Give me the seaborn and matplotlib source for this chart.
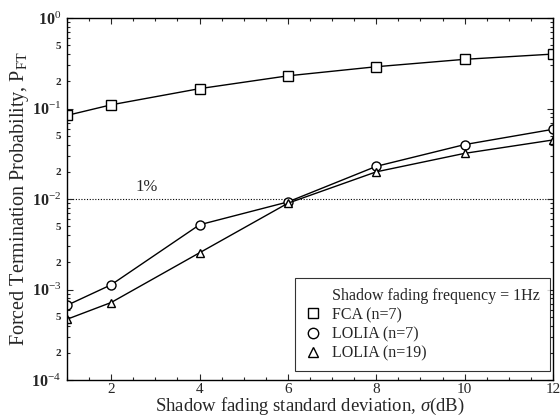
import matplotlib
matplotlib.use("Agg")
import matplotlib.pyplot as plt
import matplotlib.ticker as mticker
from matplotlib.lines import Line2D
import numpy as np
import pandas as pd
import seaborn as sns

# Shadow fading standard deviation (dB)
sigma = [1, 2, 4, 6, 8, 10, 12]

# Forced termination probability for each scheme
p_fca7 = [0.084, 0.11, 0.166, 0.23, 0.29, 0.35, 0.40]
p_lolia7 = [6.7e-4, 1.13e-3, 5.2e-3, 9.3e-3, 0.023, 0.040, 0.059]
p_lolia19 = [4.7e-4, 7.2e-4, 2.55e-3, 9.0e-3, 0.020, 0.032, 0.045]

series_names = ["FCA (n=7)", "LOLIA (n=7)", "LOLIA (n=19)"]
series_markers = ["s", "o", "^"]
legend_title = "Shadow fading frequency = 1Hz"

x_ticks = [2, 4, 6, 8, 10, 12]
y_major = [1e-4, 1e-3, 1e-2, 1e-1, 1e0]
y_major_labels = ["10$^{-4}$", "10$^{-3}$", "10$^{-2}$", "10$^{-1}$", "10$^{0}$"]
y_minor_labelled = [2, 5]
threshold = 1e-2
threshold_label = "1%"

sns.set_style("ticks")
plt.rcParams["font.family"] = ["Liberation Serif", "DejaVu Serif"]
plt.rcParams["mathtext.fontset"] = "custom"
plt.rcParams["mathtext.rm"] = "Liberation Serif"
plt.rcParams["mathtext.it"] = "Liberation Serif:italic"
plt.rcParams["mathtext.bf"] = "Liberation Serif:bold"

df = pd.DataFrame({
    "sigma": sigma * 3,
    "p": p_fca7 + p_lolia7 + p_lolia19,
    "scheme": sum([[n] * len(sigma) for n in series_names], []),
})

fig = plt.figure(figsize=(5.6, 4.2), dpi=100)
ax = fig.add_axes([0.1196, 0.095, 0.8679, 0.862])

for name, mk in zip(series_names, series_markers):
    sub = df[df["scheme"] == name]
    sns.lineplot(data=sub, x="sigma", y="p", ax=ax, color="black", lw=1.0,
                 marker=mk, markersize=6.5 if mk != "^" else 6, markerfacecolor="white",
                 markeredgecolor="black", markeredgewidth=1.0, legend=False)

ax.set_yscale("log")
ax.set_xlim(1, 12)
ax.set_ylim(1e-4, 1e0)

ax.axhline(threshold, color="black", lw=0.8, ls=(0, (1, 1.5)), zorder=0)
ax.text(2.55, threshold * 1.1, threshold_label, fontsize=12, ha="left", va="bottom")

ax.set_xticks(x_ticks)
ax.set_xticklabels([str(t) for t in x_ticks], fontsize=11)
ax.xaxis.set_minor_locator(mticker.MultipleLocator(0.5))

ax.yaxis.set_major_locator(mticker.FixedLocator(y_major))
ax.yaxis.set_major_formatter(mticker.FixedFormatter(y_major_labels))
minor_pos = [m * 10.0 ** e for e in range(-4, 0) for m in range(2, 10)]
minor_lab = [str(m) if m in y_minor_labelled else "" for e in range(-4, 0) for m in range(2, 10)]
ax.yaxis.set_minor_locator(mticker.FixedLocator(minor_pos))
ax.yaxis.set_minor_formatter(mticker.FixedFormatter(minor_lab))
for lab in ax.get_yticklabels():
    lab.set_fontsize(11.5)
    lab.set_fontweight("bold")
for lab in ax.get_yticklabels(minor=True):
    lab.set_fontsize(8)
    lab.set_fontweight("bold")

ax.tick_params(which="both", direction="in", top=True, right=True, width=0.8)
ax.tick_params(which="major", length=4, pad=4)
ax.tick_params(which="minor", length=2, pad=4)
ax.tick_params(axis="x", which="major", pad=2)
for s in ax.spines.values():
    s.set_linewidth(1.0)
    s.set_color("black")

ax.set_xlabel(r"Shadow fading standard deviation, $\mathit{\sigma}$(dB)", fontsize=13.5, labelpad=0)
ax.set_ylabel(r"Forced Termination Probability, P$_{\mathrm{FT}}$", fontsize=14.5, labelpad=0)

handles = [Line2D([], [], ls="none")] + [
    Line2D([], [], ls="none", marker=mk, markersize=7.5, markerfacecolor="white",
           markeredgecolor="black", markeredgewidth=1.0) for mk in series_markers]
labels = [legend_title] + series_names
leg = ax.legend(handles, labels, loc="lower right", bbox_to_anchor=(0.993, 0.025),
                borderaxespad=0, frameon=True, fancybox=False, edgecolor="black",
                fontsize=11.5, handlelength=1.0, handletextpad=0.7, borderpad=0.6,
                labelspacing=0.2)
leg.get_frame().set_linewidth(0.8)

fig.savefig("out.png", dpi=100)
